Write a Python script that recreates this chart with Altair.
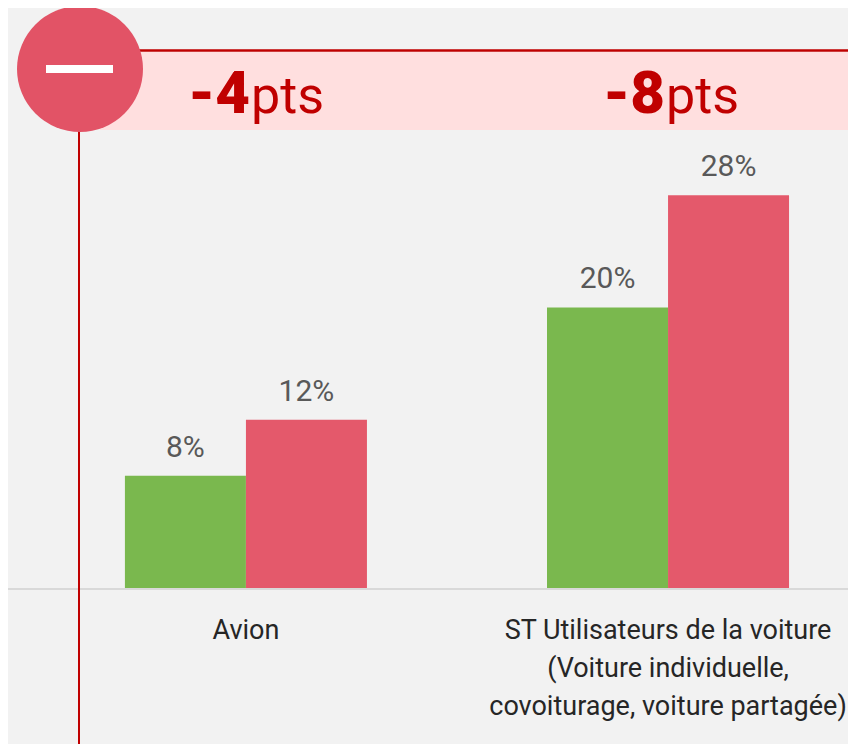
import altair as alt
import pandas as pd

categories = ["Avion", "ST Utilisateurs de la voiture\n(Voiture individuelle,\ncovoiturage, voiture partagée)"]
series = ["A", "B"]
values_a = [8, 20]
values_b = [12, 28]
delta_bold = ["-4", "-8"]
delta_unit = ["pts", "pts"]
GREEN = "#7ab84e"
RED = "#e4596b"
DARK = "#c00000"
FONT = "Roboto"
W, H = 840, 580

rows = []
for c, a, b in zip(categories, values_a, values_b):
    rows.append({"cat": c, "s": "A", "v": a, "lab": f"{a}%"})
    rows.append({"cat": c, "s": "B", "v": b, "lab": f"{b}%"})
df = pd.DataFrame(rows)

xs = alt.Scale(domain=categories, paddingInner=0.4265, paddingOuter=0.2083, align=0.6648)
ys = alt.Scale(domain=[0, 41.34], nice=False)
x = alt.X("cat:N", scale=xs, sort=None, title=None, axis=alt.Axis(
    labelExpr="split(datum.label, '\\n')", labelAngle=0, labelFont=FONT, labelFontSize=27, labelColor="#262626",
    labelLineHeight=38, labelPadding=29, labelOverlap=False, labelBound=False, labelFlush=False, labelLimit=0,
    ticks=False, domain=False, grid=False, labelBaseline="top"))
y = alt.Y("v:Q", scale=ys, axis=None)
off = alt.XOffset("s:N", scale=alt.Scale(paddingInner=0, paddingOuter=0))

bg = alt.Chart(pd.DataFrame({"k": [0]}))
band = bg.mark_rect(color="#ffdfdf").encode(x=alt.value(92), x2=alt.value(W), y=alt.value(44), y2=alt.value(122))
topline = bg.mark_rule(color=DARK, strokeWidth=2.5).encode(x=alt.value(92), x2=alt.value(W), y=alt.value(42.5))
baseline = bg.mark_rule(color="#d9d9d9", strokeWidth=2).encode(x=alt.value(0), x2=alt.value(W), y=alt.value(581))
vline = bg.mark_rule(color=DARK, strokeWidth=2).encode(x=alt.value(71), y=alt.value(61), y2=alt.value(736))
circle = bg.mark_point(filled=True, color="#e25366", opacity=1, size=15876, shape="circle").encode(x=alt.value(72), y=alt.value(61))
minus = bg.mark_rule(color="white", strokeWidth=8).encode(x=alt.value(38), x2=alt.value(105), y=alt.value(61))

bars = alt.Chart(df).mark_bar(size=121).encode(
    x=x, xOffset=off, y=y,
    color=alt.Color("s:N", scale=alt.Scale(domain=series, range=[GREEN, RED]), legend=None))
labels = alt.Chart(df).mark_text(font=FONT, fontSize=30, color="#595959", baseline="alphabetic", dy=-19).encode(
    x=x, xOffset=off, y=y, text="lab:N")

heads = []
for c, b, u, d in zip(categories, delta_bold, delta_unit, [4, -3]):
    row = alt.Chart(pd.DataFrame({"cat": [c], "bold": [b], "unit": [u]}))
    heads.append(row.mark_text(font=FONT, fontSize=60, fontWeight=900, color=DARK, align="right", baseline="alphabetic", dx=d).encode(
        x=x, y=alt.value(105), text="bold:N"))
    heads.append(row.mark_text(font=FONT, fontSize=52, color=DARK, align="left", baseline="alphabetic", dx=d + 1).encode(
        x=x, y=alt.value(105), text="unit:N"))

chart = alt.layer(band, topline, baseline, bars, labels, *heads, vline, circle, minus).properties(
    width=W, height=H, background="#f2f2f2",
    padding={"left": 0, "top": 0, "right": 0, "bottom": 156},
    autosize=alt.AutoSizeParams(type="none"),
).configure_view(stroke=None)
chart.save("out.html", embed_options={"renderer": "svg", "actions": False})
